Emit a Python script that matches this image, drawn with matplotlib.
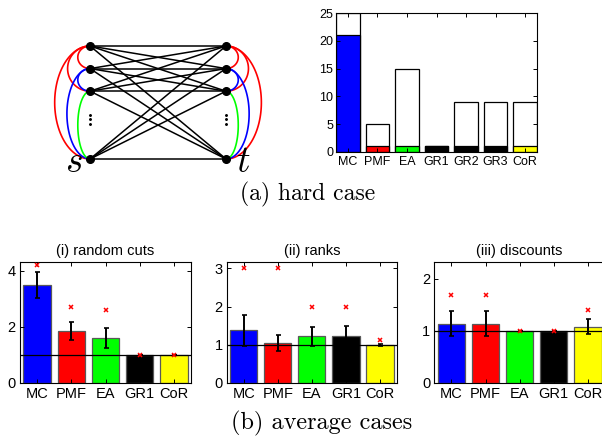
import matplotlib.pyplot as plt
import numpy as np

plt.rcParams['font.family'] = ['Liberation Sans', 'DejaVu Sans']
plt.rcParams['mathtext.fontset'] = 'cm'

# (a) hard case: cuts found (coloured) out of the bar total
hard_methods = ["MC", "PMF", "EA", "GR1", "GR2", "GR3", "CoR"]
hard_found = [21, 1, 1, 1, 1, 1, 1]
hard_total = [25, 5, 15, 1, 9, 9, 9]
hard_colors = ["#0000ff", "#ff0000", "#00ff00", "#000000", "#000000", "#000000", "#ffff00"]

# (b) average cases
avg_methods = ["MC", "PMF", "EA", "GR1", "CoR"]
avg_colors = ["#0000ff", "#ff0000", "#00ff00", "#000000", "#ffff00"]

cuts_mean = [3.5, 1.87, 1.6, 1.0, 1.0]
cuts_err = [0.47, 0.32, 0.36, 0.0, 0.0]
cuts_max = [4.2, 2.72, 2.6, 1.0, 1.0]

ranks_mean = [1.38, 1.04, 1.22, 1.22, 1.0]
ranks_err = [0.41, 0.21, 0.25, 0.27, 0.02]
ranks_max = [3.0, 3.0, 2.0, 2.0, 1.12]

disc_mean = [1.14, 1.14, 1.0, 1.0, 1.08]
disc_err = [0.24, 0.24, 0.0, 0.0, 0.145]
disc_max = [1.69, 1.69, 1.0, 1.0, 1.4]

# graph of the hard instance: node rows (last one is s / t)
node_rows = [0, 1, 2, 5]
dots_rows = [3.05, 3.25, 3.45]
# (from row, to row, colour, bulge)
arcs = [
    (0, 1, "#ff0000", 0.09),
    (0, 2, "#ff0000", 0.165),
    (0, 3, "#ff0000", 0.26),
    (1, 2, "#0000ff", 0.09),
    (1, 3, "#0000ff", 0.17),
    (2, 3, "#00ff00", 0.09),
]

W, H = 602, 438
fig = plt.figure(figsize=(W / 100, H / 100), dpi=100)


def px_axes(l, t, r, b):
    return fig.add_axes([l / W, 1 - b / H, (r - l) / W, (b - t) / H])


def matlab_style(ax, size):
    ax.tick_params(direction="in", top=True, right=True, length=3,
                   width=0.7, labelsize=size, pad=3)
    for sp in ax.spines.values():
        sp.set_linewidth(0.8)


# --- graph ---
g = px_axes(40, 0, 280, 180)
g.set_xlim(-0.368, 1.397)
g.set_ylim(5.93, -2.035)
g.axis("off")

theta = np.linspace(0, np.pi, 80)
for side, x0 in [(1, 0.0), (-1, 1.0)]:
    for a, b, col, bulge in arcs:
        ya, yb = node_rows[a], node_rows[b]
        yy = (ya + yb) / 2 - (yb - ya) / 2 * np.cos(theta)
        xx = x0 - side * bulge * np.sin(theta)
        g.plot(xx, yy, color=col, lw=1.2, zorder=2)
    g.plot([x0] * len(dots_rows), dots_rows, "k.", ms=2.2, zorder=3)

for yl in node_rows:
    for yr in node_rows:
        g.plot([0, 1], [yl, yr], color="k", lw=1.1, zorder=3)
g.plot([0] * len(node_rows), node_rows, "ko", ms=5.5, zorder=4)
g.plot([1] * len(node_rows), node_rows, "ko", ms=5.5, zorder=4)
g.text(-0.118, 5.575, "$s$", fontsize=27, ha="center", va="baseline")
g.text(1.125, 5.575, "$t$", fontsize=27, ha="center", va="baseline")

# --- hard case bars ---
ax = px_axes(336, 13, 537, 152)
x = np.arange(1, len(hard_methods) + 1)
ax.bar(x, hard_total, width=0.8, color="white", edgecolor="k", lw=0.9)
ax.bar(x, hard_found, width=0.8, color=hard_colors, edgecolor="k", lw=0.9)
ax.set_xlim(0.6, 7.4)
ax.set_ylim(0, 25)
ax.set_yticks([0, 5, 10, 15, 20, 25])
ax.set_xticks(x)
ax.set_xticklabels(hard_methods)
matlab_style(ax, 9)
ax.tick_params(axis="y", pad=2)

fig.text(308 / W, 1 - 200.5 / H, "(a) hard case", fontfamily="cmr10",
         fontsize=17, ha="center", va="baseline")

# --- average cases ---
panels = [
    ("(i) random cuts", cuts_mean, cuts_err, cuts_max, 4.32, [0, 2, 4], (20, 191)),
    ("(ii) ranks", ranks_mean, ranks_err, ranks_max, 3.17, [0, 1, 2, 3], (226.7, 397)),
    ("(iii) discounts", disc_mean, disc_err, disc_max, 2.32, [0, 1, 2], (434.3, 605)),
]
x = np.arange(1, len(avg_methods) + 1)
for i, (title, mean, err, top, ymax, yt, (l, r)) in enumerate(panels):
    ax = px_axes(l, 262, r, 383)
    ax.bar(x, mean, width=0.8, color=avg_colors, edgecolor="0.35", lw=0.9, zorder=1)
    ax.axhline(1, color="k", lw=0.9, zorder=2)
    ax.errorbar(x, mean, yerr=err, fmt="none", ecolor="k", elinewidth=1.4,
                capsize=1.8, capthick=1.2, zorder=3)
    ax.plot(x, top, "x", color="#ff0000", ms=3.5, mew=1.1, zorder=4)
    ax.set_xlim(0.5, 5.5)
    ax.set_ylim(0, ymax)
    ax.set_yticks(yt)
    ax.set_xticks(x)
    ax.set_xticklabels(avg_methods)
    matlab_style(ax, 10.5)
    if i == len(panels) - 1:
        # right spine falls off the page
        ax.tick_params(axis="y", right=False)
    ax.set_title(title, fontsize=10.5, pad=5)

fig.text(322 / W, 1 - 429 / H, "(b) average cases", fontfamily="cmr10",
         fontsize=17.5, ha="center", va="baseline")

fig.savefig("out.png", dpi=100)
